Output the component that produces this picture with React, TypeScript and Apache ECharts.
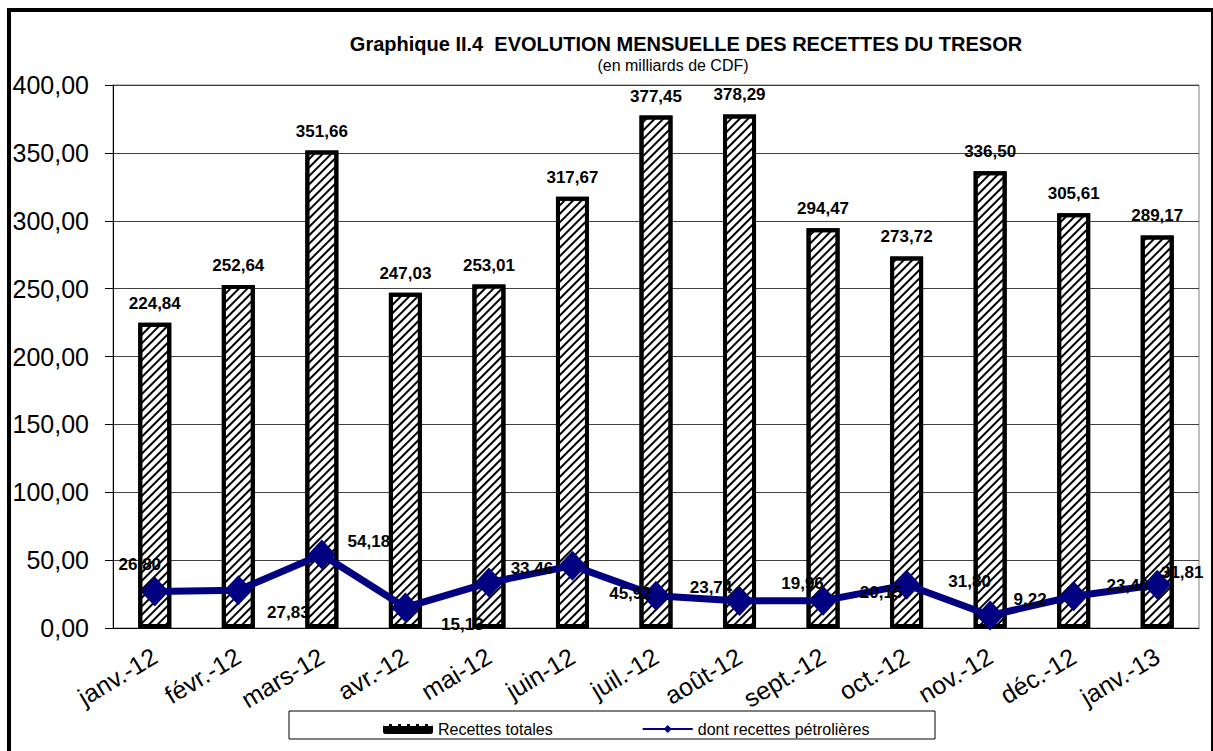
import React, { useEffect, useRef } from "react";
import * as echarts from "echarts";

const CATEGORIES = [
  "janv.-12", "févr.-12", "mars-12", "avr.-12", "mai-12", "juin-12", "juil.-12",
  "août-12", "sept.-12", "oct.-12", "nov.-12", "déc.-12", "janv.-13",
];
const RECETTES_TOTALES = [
  224.84, 252.64, 351.66, 247.03, 253.01, 317.67, 377.45, 378.29, 294.47, 273.72, 336.5, 305.61, 289.17,
];
const RECETTES_PETROLIERES = [
  26.8, 27.83, 54.18, 15.13, 33.46, 45.92, 23.74, 19.96, 20.15, 31.8, 9.22, 23.4, 31.81,
];
const Y_MIN = 0;
const Y_MAX = 400;
const Y_INTERVAL = 50;

const TITLE = "Graphique II.4  EVOLUTION MENSUELLE DES RECETTES DU TRESOR";
const SUBTITLE = "(en milliards de CDF)";
const SERIES_NAMES = ["Recettes totales", "dont recettes pétrolières"];

// label placement (style only), offsets of each line label from its point
const LINE_LABEL_OFFSETS: [number, number][] = [
  [-15, -27], [50, 22], [47, -13], [57, 17], [43, -14], [58, 28], [55, -8],
  [63, -17], [58, -8], [63, -3], [40, -16], [54, -11], [25, -12],
];

const FONT = "'Liberation Sans', Arial, sans-serif";
const fmt = (v: number) => v.toFixed(2).replace(".", ",");

export default function App() {
  const ref = useRef<HTMLDivElement>(null);
  useEffect(() => {
    if (!ref.current) return;
    const chart = echarts.init(ref.current, undefined, { renderer: "svg" });
    const option: any = {
      animation: false,
      backgroundColor: "#fff",
      textStyle: { fontFamily: FONT },
      grid: {
        left: 113, right: 14, top: 85, bottom: 123,
        show: true, borderColor: "#808080", borderWidth: 1,
      },
      graphic: [
        {
          type: "rect", shape: { x: 9, y: 10, width: 1204, height: 760 },
          style: { fill: "none", stroke: "#000", lineWidth: 4 }, z: 100,
        },
        {
          type: "rect", shape: { x: 289, y: 711, width: 646, height: 28 },
          style: { fill: "none", stroke: "#000", lineWidth: 1 }, z: 100,
        },
        {
          type: "text", x: 686, y: 34,
          style: { text: TITLE, font: `bold 20px ${FONT}`, fill: "#000", textAlign: "center" },
        },
        {
          type: "text", x: 673, y: 57,
          style: { text: SUBTITLE, font: `16px ${FONT}`, fill: "#000", textAlign: "center" },
        },
      ],
      legend: {
        left: 378, top: 716, itemWidth: 50, itemHeight: 10, itemGap: 89,
        textStyle: { fontSize: 16, color: "#000", fontFamily: FONT },
        data: [
          {
            name: SERIES_NAMES[0], icon: "roundRect",
            itemStyle: {
              color: "#000", borderWidth: 0,
              decal: { symbol: "rect", symbolSize: 1, dashArrayX: [6, 3], dashArrayY: [2, 8], rotation: 0, color: "#fff" },
            },
          },
          { name: SERIES_NAMES[1] },
        ],
      },
      xAxis: {
        type: "category",
        data: CATEGORIES,
        axisLine: { lineStyle: { color: "#000", width: 1 } },
        axisTick: { length: 8, lineStyle: { color: "#000" } },
        axisLabel: { rotate: 31, fontSize: 25, color: "#000", margin: 26, fontFamily: FONT },
      },
      yAxis: {
        type: "value",
        min: Y_MIN, max: Y_MAX, interval: Y_INTERVAL,
        axisLine: { show: true, lineStyle: { color: "#000", width: 1 } },
        axisTick: { show: true, length: 8, lineStyle: { color: "#000" } },
        axisLabel: { fontSize: 25, color: "#000", margin: 24, fontFamily: FONT, formatter: (v: number) => fmt(v) },
        splitLine: { lineStyle: { color: "#404040", width: 1 } },
      },
      series: [
        {
          name: SERIES_NAMES[0],
          type: "bar",
          data: RECETTES_TOTALES,
          barWidth: 33,
          itemStyle: {
            color: "#fff",
            borderColor: "#000",
            borderWidth: 4,
            decal: {
              symbol: "rect", symbolSize: 1,
              dashArrayX: [1, 0], dashArrayY: [2, 4],
              rotation: -Math.PI / 4, color: "#000",
            },
          },
          label: {
            show: true, position: "top", distance: 11,
            fontSize: 17, fontWeight: "bold", color: "#000", fontFamily: FONT,
            formatter: (p: any) => fmt(p.value),
          },
          z: 2,
        },
        {
          name: SERIES_NAMES[1],
          type: "line",
          data: RECETTES_PETROLIERES.map((v, i) => ({
            value: v,
            label: { offset: LINE_LABEL_OFFSETS[i] },
          })),
          lineStyle: { color: "#000080", width: 7 },
          itemStyle: { color: "#000080" },
          symbol: "diamond",
          symbolSize: [28, 30],
          label: {
            show: true, position: "inside",
            fontSize: 17, fontWeight: "bold", color: "#000", fontFamily: FONT,
            formatter: (p: any) => fmt(p.value),
          },
          z: 3,
        },
      ],
    };
    chart.setOption(option);
    return () => chart.dispose();
  }, []);
  return (
    <div
      ref={ref}
      style={{ position: "fixed", left: 0, top: 0, width: 1213, height: 751, background: "#fff" }}
    />
  );
}
